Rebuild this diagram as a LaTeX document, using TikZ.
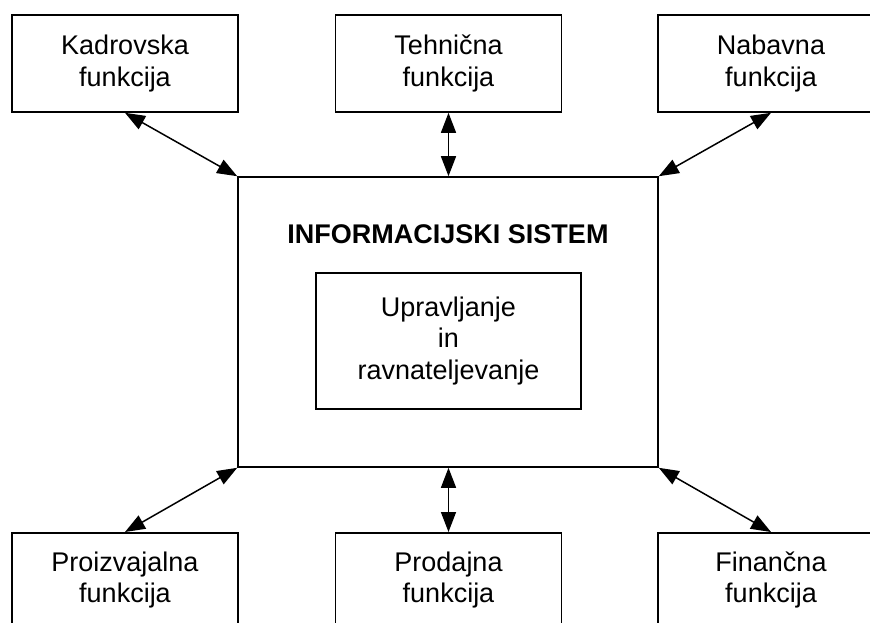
\documentclass[tikz,border=0pt]{standalone}
\usepackage{fontspec}
\setmainfont{Liberation Sans}
\usetikzlibrary{arrows.meta}

\begin{document}
\begin{tikzpicture}[x=1pt,y=1pt,
  every node/.style={font=\fontsize{27pt}{31.5pt}\selectfont, align=center, inner sep=0pt},
  funcbox/.style={draw=black, line width=1.6pt, minimum width=226pt, minimum height=97pt},
  lowbox/.style={funcbox, anchor=north, minimum height=94pt},
  sysbox/.style={draw=black, line width=1.6pt, minimum width=420pt, minimum height=290pt},
  corebox/.style={draw=black, line width=1.6pt, minimum width=265pt, minimum height=136pt},
  link/.style={line width=1.5pt, {Triangle[length=20pt,width=15pt]}-{Triangle[length=20pt,width=15pt]}}
]
\useasboundingbox (0,0) rectangle (870,-622);
\clip (0,0) rectangle (870,-622);

% central information system
\node[sysbox] (is) at (448,-322) {};
\node[anchor=base, font=\bfseries\fontsize{27pt}{31.5pt}\selectfont] (title) at (448,-243) {INFORMACIJSKI SISTEM};
\node[corebox] (core) at (448.5,-341) {Upravljanje\\in\\ravnateljevanje};

% business functions above
\node[funcbox] (kadr) at (125,-63.5) {Kadrovska\\funkcija};
\node[funcbox] (tehn) at (448.5,-63.5) {Tehnična\\funkcija};
\node[funcbox] (nab)  at (771,-63.5) {Nabavna\\funkcija};

% business functions below
\node[lowbox] (proiz) at (125,-532) {Proizvajalna\\funkcija};
\node[lowbox] (prod)  at (448.5,-532) {Prodajna\\funkcija};
\node[lowbox] (fin)   at (771,-532) {Finančna\\funkcija};

% two-way links
\draw[link] (kadr.south) -- (is.north west);
\draw[link] (tehn.south) -- (tehn.south |- is.north);
\draw[link] (nab.south) -- (is.north east);
\draw[link] (is.south west) -- (proiz.north);
\draw[link] (prod.north |- is.south) -- (prod.north);
\draw[link] (is.south east) -- (fin.north);
\end{tikzpicture}
\end{document}
